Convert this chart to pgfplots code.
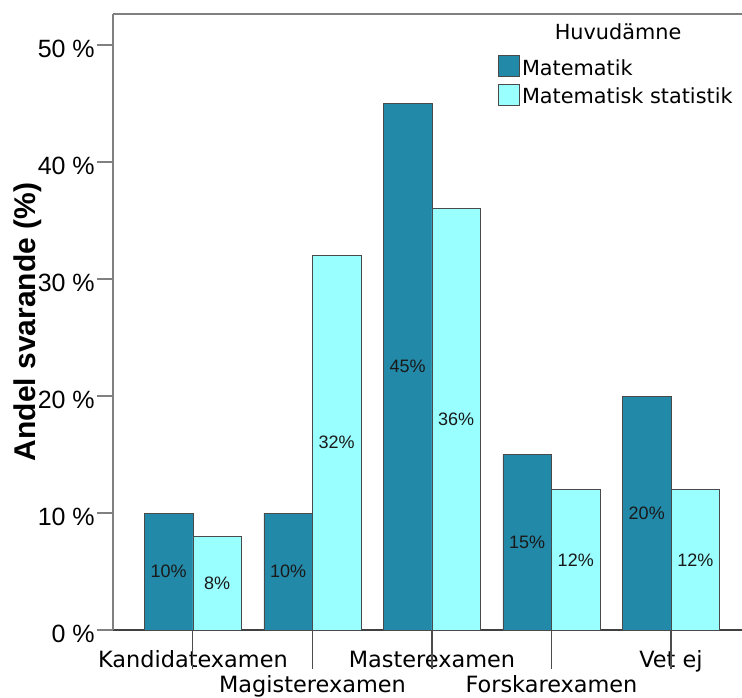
\documentclass[border=0pt]{standalone}
\usepackage{pgfplots}
\usepackage{pgfplotstable}
\pgfplotsset{compat=1.18}
\usepackage{fontspec}
\setmainfont{Liberation Sans}
\newfontfamily\dejavu{DejaVu Sans}

\definecolor{matte}{HTML}{2389A8}
\definecolor{stat}{HTML}{99FFFF}
\definecolor{framegray}{HTML}{808080}
\definecolor{baredge}{HTML}{4A4A4A}

% share of respondents (%) per degree and main subject
\pgfplotstableread{
pos mat stat
0 10 8
1 10 32
2 45 36
3 15 12
4 20 12
}\examen

\begin{document}
\begin{tikzpicture}
\useasboundingbox (-84.75pt,-50.25pt) rectangle (471.75pt,472.5pt);
\begin{axis}[
  at={(0pt,0pt)}, anchor=south west,
  scale only axis, width=471.75pt, height=462pt,
  xmin=-0.669, xmax=4.594,
  ymin=0, ymax=52.65,
  clip=false,
  axis x line*=bottom, axis y line*=left,
  x axis line style={draw=black!75, line width=0.8pt},
  y axis line style={draw=framegray, line width=1pt},
  ytick={0,10,...,50},
  yticklabel={\pgfmathprintnumber{\tick} \%},
  /pgf/number format/assume math mode=true,
  tick align=outside,
  major tick length=12pt,
  ytick style={draw=framegray, line width=0.8pt},
  yticklabel style={font=\fontsize{18.75}{20}\selectfont, anchor=east, inner sep=0pt, xshift=-1.5pt, yshift=-3pt},
  xtick={0,...,4},
  xtick style={draw=none},
  xticklabels={Kandidatexamen,\raisebox{-18.75pt}{Magisterexamen},Masterexamen,\raisebox{-18.75pt}{Forskarexamen},Vet ej},
  xticklabel style={font=\dejavu\fontsize{16.8}{18}\selectfont, anchor=base, yshift=-15.75pt},
  ylabel={Andel svarande (\%)},
  ylabel style={font=\bfseries\fontsize{22.5}{26}\selectfont, at={(axis description cs:-0.135,0.5)}, anchor=center},
  legend style={at={(rel axis cs:0.612,0.9334)}, anchor=north west, draw=none, fill=none, inner sep=0pt,
    font=\dejavu\fontsize{15.6}{18}\selectfont, row sep=4.5pt,
    nodes={inner xsep=1.5pt, inner ysep=0pt}},
  legend cell align=left,
  nodes near coords={\pgfmathprintnumber{\pgfplotspointmeta}\%},
  nodes near coords style={font=\fontsize{13.5}{15}\selectfont, text=black!90, anchor=center},
  visualization depends on=rawy \as \rawy,
]
\addplot[ybar, fill=matte, draw=baredge, line width=0.6pt, bar width=0.406, bar shift=-0.203, forget plot,
    every node near coord/.append style={shift={(axis direction cs:-0.203,-\rawy/2)}}]
  table[x=pos, y=mat]{\examen};
\addplot[ybar, fill=stat, draw=baredge, line width=0.6pt, bar width=0.406, bar shift=0.203, forget plot,
    every node near coord/.append style={shift={(axis direction cs:0.203,-\rawy/2)}}]
  table[x=pos, y=stat]{\examen};

\addlegendimage{legend image code/.code={\draw[fill=matte, draw=baredge, line width=0.6pt] (0pt,-6pt) rectangle (15.75pt,9.75pt);}}
\addlegendentry{Matematik}
\addlegendimage{legend image code/.code={\draw[fill=stat, draw=baredge, line width=0.6pt] (0pt,-6pt) rectangle (15.75pt,9.75pt);}}
\addlegendentry{Matematisk statistik}

% frame line along the top and the long separators below the x axis
\draw[framegray, line width=1pt] (rel axis cs:0,1) -- (rel axis cs:1,1);
\pgfplotsinvokeforeach{0,...,4}{
  \draw[black!70, line width=0.8pt] (axis cs:#1,0) -- ++(0pt,-29.25pt);
}
\node[font=\dejavu\fontsize{15.6}{18}\selectfont, anchor=base] at (rel axis cs:0.803,0.9578) {Huvudämne};
\end{axis}
\end{tikzpicture}
\end{document}
